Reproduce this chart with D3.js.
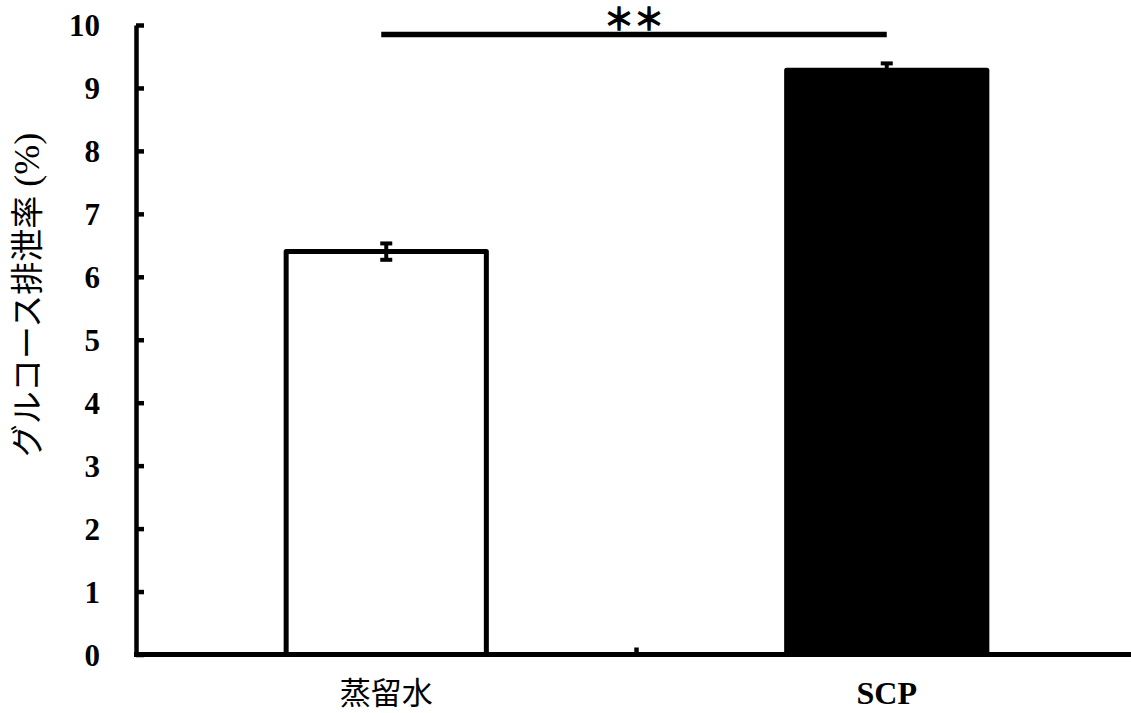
<!DOCTYPE html>
<html>
<head>
<meta charset="utf-8">
<script src="https://cdn.jsdelivr.net/npm/d3@7"></script>
<style>
  body { margin: 0; background: #fff; }
  svg { display: block; }
</style>
</head>
<body>
<svg id="chart"></svg>
<script>
'use strict'

// data
const categories = ['蒸留水', 'SCP']
const means = [6.40, 9.28]
const errors = [0.13, 0.11]
const barFills = ['#ffffff', '#000000']
const yTicks = [0, 1, 2, 3, 4, 5, 6, 7, 8, 9, 10]
const sigPair = [0, 1]
const sigLevel = 9.85
const sigLabel = '＊＊'

const svgSize = { width: 1131, height: 713 }
const margin = { top: 25, left: 136, bottom: 58.5 }
const plotRight = 1137

const svg = d3.select('#chart')
  .attr('width', svgSize.width)
  .attr('height', svgSize.height)

svg.append('rect')
  .attr('width', svgSize.width)
  .attr('height', svgSize.height)
  .attr('fill', '#fff')

const innerHeight = svgSize.height - margin.top - margin.bottom

const xScale = d3.scaleBand()
  .domain(categories)
  .range([margin.left, plotRight])
  .paddingInner(0.6)
  .paddingOuter(0.3)

const yScale = d3.scaleLinear()
  .domain([0, 10])
  .range([margin.top + innerHeight, margin.top])

const serif = '"Liberation Serif", "Times New Roman", serif'
const cjk = '"Noto Sans CJK JP", "Noto Sans", sans-serif'

// bars
svg.selectAll('rect.bar')
  .data(categories)
  .enter()
  .append('rect')
  .attr('class', 'bar')
  .attr('x', d => xScale(d))
  .attr('width', xScale.bandwidth())
  .attr('y', (d, i) => yScale(means[i]))
  .attr('height', (d, i) => yScale(0) - yScale(means[i]))
  .attr('fill', (d, i) => barFills[i])
  .attr('stroke', '#000')
  .attr('stroke-width', 5)
  .attr('stroke-linejoin', 'round')

// error bars
const center = d => xScale(d) + xScale.bandwidth() / 2
const errG = svg.append('g')
categories.forEach((c, i) => {
  const cx = center(c)
  const top = yScale(means[i] + errors[i])
  const bot = yScale(means[i] - errors[i])
  errG.append('line')
    .attr('x1', cx).attr('x2', cx)
    .attr('y1', top).attr('y2', bot)
    .attr('stroke', '#000').attr('stroke-width', 4)
  ;[top, bot].forEach(y => {
    errG.append('line')
      .attr('x1', cx - 6).attr('x2', cx + 6)
      .attr('y1', y).attr('y2', y)
      .attr('stroke', '#000').attr('stroke-width', 4)
  })
})

// y axis, ticks pointing inward
const yAxis = svg.append('g')
  .attr('transform', 'translate(' + margin.left + ',0)')
  .call(d3.axisLeft(yScale).tickValues(yTicks).tickSize(-8).tickSizeOuter(0).tickPadding(36))
yAxis.select('.domain').attr('stroke-width', 4.5)
yAxis.selectAll('.tick line').attr('stroke-width', 4.5)
yAxis.selectAll('.tick text')
  .attr('font-family', serif)
  .attr('font-weight', 'bold')
  .attr('font-size', 31)
  .attr('dy', '0.34em')
  .attr('fill', '#000')

// x axis: baseline with a tick between the categories
const xAxisY = yScale(0)
svg.append('line')
  .attr('x1', margin.left - 2).attr('x2', plotRight)
  .attr('y1', xAxisY).attr('y2', xAxisY)
  .attr('stroke', '#000').attr('stroke-width', 5)

const boundary = xScale(categories[1]) - xScale.step() * xScale.paddingInner() / 2
svg.append('line')
  .attr('x1', boundary).attr('x2', boundary)
  .attr('y1', xAxisY).attr('y2', xAxisY - 7)
  .attr('stroke', '#000').attr('stroke-width', 4.5)

// category labels
svg.selectAll('text.cat')
  .data(categories)
  .enter()
  .append('text')
  .attr('class', 'cat')
  .attr('x', d => center(d))
  .attr('y', 704)
  .attr('text-anchor', 'middle')
  .attr('font-family', (d, i) => i === 0 ? cjk : serif)
  .attr('font-weight', (d, i) => i === 0 ? 'normal' : 'bold')
  .attr('font-size', (d, i) => i === 0 ? 31 : 32)
  .attr('fill', '#000')
  .text(d => d)

// y axis title
const yTitle = svg.append('text')
  .attr('transform', 'translate(39,295) rotate(-90)')
  .attr('text-anchor', 'middle')
  .attr('fill', '#000')
yTitle.append('tspan')
  .attr('font-family', cjk)
  .attr('font-size', 33)
  .text('グルコース排泄率')
yTitle.append('tspan')
  .attr('font-family', serif)
  .attr('font-size', 36)
  .text(' (%)')

// significance bracket
const sx1 = center(categories[sigPair[0]]) - 5
const sx2 = center(categories[sigPair[1]])
const sy = yScale(sigLevel)
svg.append('line')
  .attr('x1', sx1).attr('x2', sx2)
  .attr('y1', sy).attr('y2', sy)
  .attr('stroke', '#000').attr('stroke-width', 5.5)
svg.append('text')
  .attr('x', (sx1 + sx2) / 2)
  .attr('y', 17)
  .attr('text-anchor', 'middle')
  .attr('dominant-baseline', 'central')
  .attr('font-family', cjk)
  .attr('font-size', 30)
  .attr('fill', '#000')
  .attr('stroke', '#000')
  .attr('stroke-width', 1.6)
  .text(sigLabel)
</script>
</body>
</html>
